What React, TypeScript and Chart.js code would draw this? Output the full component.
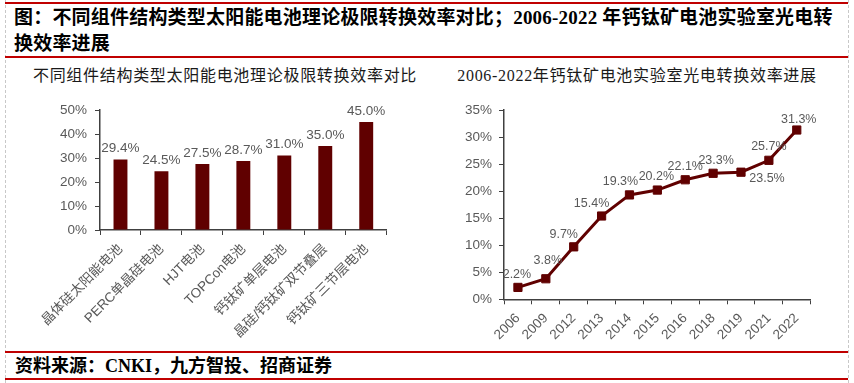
import React, { useEffect, useRef } from "react";
import { Chart, registerables } from "chart.js";

Chart.register(...registerables);

// ---- data ----
const barCategories = [
  "晶体硅太阳能电池",
  "PERC单晶硅电池",
  "HJT电池",
  "TOPCon电池",
  "钙钛矿单层电池",
  "晶硅/钙钛矿双节叠层",
  "钙钛矿三节层电池",
];
const barValues = [29.4, 24.5, 27.5, 28.7, 31.0, 35.0, 45.0];
const barAxisMax = 50;
const barAxisStep = 10;

const years = ["2006", "2009", "2012", "2013", "2014", "2015", "2016", "2018", "2019", "2021", "2022"];
const lineValues = [2.2, 3.8, 9.7, 15.4, 19.3, 20.2, 22.1, 23.3, 23.5, 25.7, 31.3];
const lineAxisMax = 35;
const lineAxisStep = 5;

// label placement (style only)
const lineLabelOffsets = [
  [-1, -13], [2, -18], [-10, -12], [-10, -12], [-9, -13], [-1, -13],
  [0, -13], [3, -13], [26, 6], [0, -14], [2, -10],
];

const MAROON = "#600000";
const GRAY = "#595959";
const AXIS = "#404040";
const FONT = '"Liberation Sans", "Noto Sans CJK SC", sans-serif';

const valueLabels = {
  id: "valueLabels",
  afterDatasetsDraw(chart: any, _args: any, opts: any) {
    const { ctx } = chart;
    const meta = chart.getDatasetMeta(0);
    const data = chart.data.datasets[0].data as number[];
    ctx.save();
    ctx.font = `${opts.size}px ${FONT}`;
    ctx.fillStyle = GRAY;
    ctx.textAlign = "center";
    ctx.textBaseline = "middle";
    meta.data.forEach((el: any, i: number) => {
      const off = opts.offsets ? opts.offsets[i] : [0, opts.dy];
      ctx.fillText(data[i].toFixed(1) + "%", el.x + off[0], el.y + off[1]);
    });
    ctx.restore();
  },
};

function yAxis(max: number, step: number, width: number, pad: number) {
  return {
    min: 0,
    max,
    ticks: {
      stepSize: step,
      callback: (v: any) => v + "%",
      color: GRAY,
      font: { family: FONT, size: 13.5 },
      padding: pad,
    },
    grid: { display: true, drawOnChartArea: false, drawTicks: true, tickLength: 5, color: AXIS },
    border: { display: true, color: AXIS, width: 1.5 },
    afterFit(s: any) {
      s.width = width;
    },
  };
}

function xAxis(height: number, size: number, pad: number) {
  return {
    type: "category",
    offset: true,
    ticks: {
      minRotation: 45,
      maxRotation: 45,
      autoSkip: false,
      color: GRAY,
      font: { family: FONT, size },
      padding: pad,
    },
    grid: { display: true, offset: true, drawOnChartArea: false, drawTicks: true, tickLength: 5, color: AXIS },
    border: { display: true, color: AXIS, width: 1.5 },
    afterFit(s: any) {
      s.height = height;
    },
  };
}

function BarChart() {
  const ref = useRef<HTMLCanvasElement>(null);
  useEffect(() => {
    const chart = new Chart(ref.current!, {
      type: "bar",
      data: {
        labels: barCategories,
        datasets: [
          {
            data: barValues,
            backgroundColor: MAROON,
            categoryPercentage: 1,
            barPercentage: 0.34,
          },
        ],
      },
      options: {
        animation: false,
        responsive: false,
        layout: { padding: { left: 0, right: 43.3, top: 50, bottom: 0 } },
        plugins: {
          legend: { display: false },
          tooltip: { enabled: false },
          valueLabels: { size: 13.5, dy: -11 },
        } as any,
        scales: {
          x: xAxis(120, 13.5, 6) as any,
          y: yAxis(barAxisMax, barAxisStep, 90, 8) as any,
        },
      },
      plugins: [valueLabels],
    });
    return () => chart.destroy();
  }, []);
  return (
    <canvas
      ref={ref}
      width={420}
      height={290}
      style={{ position: "absolute", left: 10, top: 60, width: 420, height: 290 }}
    />
  );
}

function LineChart() {
  const ref = useRef<HTMLCanvasElement>(null);
  useEffect(() => {
    const chart = new Chart(ref.current!, {
      type: "line",
      data: {
        labels: years,
        datasets: [
          {
            data: lineValues,
            borderColor: MAROON,
            backgroundColor: MAROON,
            borderWidth: 3,
            pointStyle: "rect",
            pointRadius: 5.8,
            pointBorderWidth: 1,
            pointBackgroundColor: MAROON,
            pointBorderColor: MAROON,
            tension: 0,
          },
        ],
      },
      options: {
        animation: false,
        responsive: false,
        layout: { padding: { left: 0, right: 37.3, top: 50, bottom: 0 } },
        plugins: {
          legend: { display: false },
          tooltip: { enabled: false },
          valueLabels: { size: 12.5, offsets: lineLabelOffsets },
        } as any,
        scales: {
          x: xAxis(50.7, 13.5, 6) as any,
          y: yAxis(lineAxisMax, lineAxisStep, 64, 7) as any,
        },
      },
      plugins: [valueLabels],
    });
    return () => chart.destroy();
  }, []);
  return (
    <canvas
      ref={ref}
      width={408}
      height={290}
      style={{ position: "absolute", left: 440, top: 60, width: 408, height: 290 }}
    />
  );
}

const RED = "#C00000";
const HEAD_FONT = '"Liberation Serif", "Noto Sans CJK SC", serif';

export default function App() {
  const redLine = (top: number) => (
    <div style={{ position: "absolute", left: 5, width: 843, top, height: 2, background: RED }} />
  );
  return (
    <div
      style={{
        position: "fixed",
        left: 0,
        top: 0,
        width: 854,
        height: 383,
        background: "#fff",
        overflow: "hidden",
      }}
    >
      <div style={{ position: "absolute", left: 5, top: 0, height: 383, borderLeft: "1px dashed #c8c8c8" }} />
      <div style={{ position: "absolute", left: 848, top: 0, height: 383, borderLeft: "1px dashed #c8c8c8" }} />
      {redLine(2)}
      <div
        style={{
          position: "absolute",
          left: 14,
          top: 5,
          fontFamily: HEAD_FONT,
          fontWeight: "bold",
          fontSize: 19,
          lineHeight: "26px",
          color: "#000",
          whiteSpace: "nowrap",
          letterSpacing: 0.2,
        }}
      >
        <div>图：不同组件结构类型太阳能电池理论极限转换效率对比；2006-2022 年钙钛矿电池实验室光电转</div>
        <div>换效率进展</div>
      </div>
      {redLine(56)}
      <div
        style={{
          position: "absolute",
          left: 25,
          width: 400,
          top: 66,
          textAlign: "center",
          fontFamily: HEAD_FONT,
          fontSize: 16,
          lineHeight: "20px",
          color: "#1a1a1a",
          whiteSpace: "nowrap",
          letterSpacing: 0.7,
        }}
      >
        不同组件结构类型太阳能电池理论极限转换效率对比
      </div>
      <div
        style={{
          position: "absolute",
          left: 437,
          width: 400,
          top: 66,
          textAlign: "center",
          fontFamily: HEAD_FONT,
          fontSize: 16,
          lineHeight: "20px",
          color: "#1a1a1a",
          whiteSpace: "nowrap",
          letterSpacing: 0.7,
        }}
      >
        2006-2022年钙钛矿电池实验室光电转换效率进展
      </div>
      <BarChart />
      <LineChart />
      {redLine(351)}
      <div
        style={{
          position: "absolute",
          left: 15,
          top: 353,
          fontFamily: HEAD_FONT,
          fontWeight: "bold",
          fontSize: 18,
          lineHeight: "26px",
          color: "#000",
          whiteSpace: "nowrap",
        }}
      >
        资料来源：CNKI，九方智投、招商证券
      </div>
      {redLine(378)}
    </div>
  );
}
